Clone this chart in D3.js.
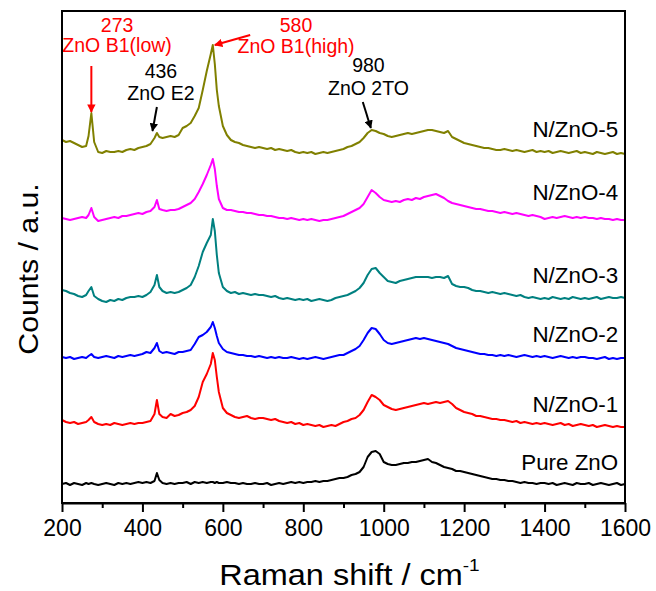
<!DOCTYPE html>
<html>
<head>
<meta charset="utf-8">
<script src="https://cdn.jsdelivr.net/npm/d3@7"></script>
<style>
  body { margin: 0; background: #fff; }
  text { font-family: "Liberation Sans", Arial, Helvetica, sans-serif; }
</style>
</head>
<body>
<svg id="chart" width="656" height="591"></svg>
<script>
// Raman shift sampling grid (cm-1)
const shift = [
  200,210,220,230,240,250,260,266,273,280,290,
  300,310,320,330,340,350,360,370,380,390,
  400,410,420,430,436,442,450,460,470,480,490,
  500,510,520,530,540,550,560,570,575,580,585,590,
  600,610,620,630,640,650,660,670,680,690,
  700,710,720,730,740,750,760,770,780,790,
  800,810,820,830,840,850,860,870,880,890,
  900,910,920,930,940,950,960,970,980,990,
  1000,1010,1020,1030,1040,1050,1060,1070,1080,1090,
  1100,1110,1120,1130,1140,1150,1160,1170,1180,1190,
  1200,1210,1220,1230,1240,1250,1260,1270,1280,1290,
  1300,1310,1320,1330,1340,1350,1360,1370,1380,1390,
  1400,1410,1420,1430,1440,1450,1460,1470,1480,1490,
  1500,1510,1520,1530,1540,1550,1560,1570,1580,1590,
  1600
];

// Relative intensities (a.u.) for each sample
const pureZnO = [
  0,1,-1,1,0,-1,1,0,1,0,-1,
  0,1,0,-1,1,0,1,0,1,2,
  1,2,1,3,11,4,1,0,1,0,1,
  1,2,0,2,1,2,1,2,2,1,2,1,
  1,2,1,1,0,1,0,0,1,0,
  0,1,-1,0,1,0,1,2,1,2,
  1,2,2,3,2,3,3,4,5,6,
  6,7,9,10,12,17,27,32,33,30,
  22,20,19,19,20,21,21,22,22,23,
  24,25,22,21,19,17,16,15,13,13,
  12,11,10,9,8,7,6,5,5,4,
  4,3,3,2,1,2,1,1,0,1,
  1,0,1,-1,0,1,0,-1,1,0,
  0,1,-1,0,1,0,-1,0,1,-1,
  0
];
const nZnO1 = [
  2,0,-1,0,-2,-1,0,2,5,0,-2,
  -3,-2,-3,-1,-2,-3,-2,-1,-2,-1,
  -1,0,1,8,22,8,5,4,8,6,7,
  9,10,12,16,25,40,48,58,69,62,45,30,
  14,9,7,5,4,5,6,4,3,4,
  4,3,2,3,1,0,-1,0,-2,-1,
  -3,-2,-3,-4,-3,-5,-4,-3,-4,-2,
  0,1,3,4,7,12,20,27,25,22,
  17,15,13,12,13,14,15,16,17,18,
  19,18,19,20,19,20,21,18,14,12,
  10,9,8,6,6,5,4,3,3,2,
  2,1,0,1,-1,0,-1,-2,-1,-2,
  -1,-2,-3,-2,-1,-3,-2,-4,-3,-2,
  -3,-4,-3,-5,-4,-3,-4,-5,-4,-5,
  -5
];
const nZnO2 = [
  1,0,1,-1,0,1,0,2,4,1,0,
  1,2,1,0,2,1,2,3,2,3,
  4,6,5,10,15,7,5,6,5,4,6,
  6,7,8,14,21,23,26,31,36,30,22,15,
  9,6,5,4,3,3,2,2,1,2,
  1,0,1,0,1,0,0,1,0,-1,
  0,-1,0,1,0,-1,0,1,2,3,
  3,5,7,9,12,18,25,30,29,24,
  18,15,14,15,16,17,18,19,20,19,
  20,19,18,17,16,15,14,12,10,9,
  8,7,6,5,4,4,3,3,2,3,
  2,3,2,1,2,3,2,1,2,1,
  2,1,0,1,2,1,0,1,0,1,
  1,0,0,-1,0,1,-1,0,-1,0,
  0
];
const nZnO3 = [
  3,2,0,-1,-3,-4,-2,2,6,-3,-6,
  -8,-9,-7,-8,-6,-7,-5,-4,-4,-3,
  -4,-2,1,8,18,6,2,0,1,0,1,
  3,5,8,16,27,41,50,58,74,62,38,20,
  6,2,0,1,-1,0,-1,-2,-1,-2,
  -2,-3,-4,-3,-5,-6,-5,-6,-7,-6,
  -7,-6,-8,-7,-6,-7,-8,-7,-5,-4,
  -3,-2,0,2,5,10,18,24,25,20,
  16,12,11,10,12,13,14,15,16,16,
  16,16,15,16,16,15,17,9,7,6,
  6,5,3,2,2,1,0,1,0,-1,
  0,-1,-2,-3,-2,-4,-5,-4,-5,-6,
  -5,-6,-4,-5,-6,-5,-6,-4,-5,-6,
  -5,-6,-5,-4,-6,-5,-4,-5,-5,-4,
  -5
];
const nZnO4 = [
  1,0,-1,0,1,2,1,4,11,2,-2,
  -1,0,1,2,1,3,3,4,5,6,
  5,7,8,12,19,10,9,8,9,9,10,
  12,14,16,20,27,35,44,54,60,50,33,20,
  11,9,9,8,7,7,6,6,5,4,
  4,3,3,2,1,1,0,1,0,-1,
  0,-1,0,-1,-2,-1,-1,0,1,2,
  3,5,7,9,11,15,22,29,26,22,
  19,18,17,18,17,19,20,19,21,20,
  22,23,24,25,23,21,18,16,15,14,
  13,12,11,10,10,9,8,8,7,6,
  7,6,5,6,5,4,3,4,3,2,
  0,1,2,1,2,3,2,1,2,1,
  2,1,1,0,1,0,0,-1,0,-1,
  -1
];
const nZnO5 = [
  6,4,5,3,1,-1,0,10,33,4,-6,
  -7,-5,-6,-6,-5,-6,-4,-3,-4,-2,
  -1,0,2,8,13,9,8,9,10,9,11,
  18,20,23,30,38,56,75,92,101,82,56,40,
  20,11,6,4,3,1,0,-1,-2,-1,
  -2,-3,-2,-4,-3,-4,-5,-4,-6,-7,
  -6,-7,-6,-8,-7,-6,-7,-6,-5,-4,
  -3,-1,0,2,4,8,13,16,15,13,
  12,10,9,10,11,12,13,12,13,14,
  15,16,16,15,14,13,15,9,7,5,
  3,2,1,0,-1,-2,-2,-3,-4,-4,
  -3,-4,-5,-4,-5,-6,-5,-4,-6,-5,
  -6,-5,-7,-6,-5,-6,-7,-6,-5,-7,
  -6,-7,-8,-6,-7,-8,-7,-6,-8,-7,
  -8
];

const seriesNames = ["Pure ZnO", "N/ZnO-1", "N/ZnO-2", "N/ZnO-3", "N/ZnO-4", "N/ZnO-5"];
const seriesValues = [pureZnO, nZnO1, nZnO2, nZnO3, nZnO4, nZnO5];
// vertical stacking offset of each spectrum (a.u.)
const offsets = [19, 81, 145, 210, 284, 357];

const xTickValues = [200, 400, 600, 800, 1000, 1200, 1400, 1600];
const xMinorTicks = [300, 500, 700, 900, 1100, 1300, 1500];

// peak annotations: position (cm-1), label lines
const peakLabels = [
  { peak: 273, lines: ["273", "ZnO B1(low)"], tone: "red" },
  { peak: 436, lines: ["436", "ZnO E2"], tone: "black" },
  { peak: 580, lines: ["580", "ZnO B1(high)"], tone: "red" },
  { peak: 980, lines: ["980", "ZnO 2TO"], tone: "black" }
];

// ---- layout & style ----
const colors = ["#000000", "#ff0000", "#0000ff", "#008080", "#ff00ff", "#808000"];
const labelLift = [14, 10, 16, 10, 19, 9];
const margin = { left: 62, top: 11, right: 31, bottom: 88 };
const W = 656, H = 591;
const innerW = W - margin.left - margin.right;
const innerH = H - margin.top - margin.bottom;

// annotation geometry in data units: text anchor (x, y of 1st and 2nd line), arrow from/to
const annotLayout = [
  { tx: 337, ty: [471, 451], arrow: [[273, 437], [273, 391]] },
  { tx: 446, ty: [425, 403], arrow: [[436, 396], [425, 372]] },
  { tx: 782, ty: [471, 450], arrow: [[668, 468], [580, 458]] },
  { tx: 962, ty: [431, 408], arrow: [[948, 401], [968, 375]] }
];

const svg = d3.select("#chart");
const g = svg.append("g").attr("transform", `translate(${margin.left},${margin.top})`);

const x = d3.scaleLinear().domain([200, 1600]).range([0, innerW]);
const y = d3.scaleLinear().domain([0, innerH]).range([innerH, 0]);

// arrow heads
const defs = svg.append("defs");
["red", "black"].forEach(c => {
  defs.append("marker")
    .attr("id", "head-" + c)
    .attr("viewBox", "0 0 10 10")
    .attr("refX", 9).attr("refY", 5)
    .attr("markerWidth", 4.2).attr("markerHeight", 4.2)
    .attr("markerUnits", "strokeWidth")
    .attr("orient", "auto")
    .append("path").attr("d", "M0,0 L10,5 L0,10 Z").attr("fill", c === "red" ? "#ff0000" : "#000");
});

// spectra
const line = d3.line()
  .x(d => x(d[0]))
  .y(d => y(d[1]));

seriesValues.forEach((vals, i) => {
  const pts = shift.map((s, k) => [s, vals[k] + offsets[i]]);
  g.append("path")
    .datum(pts)
    .attr("fill", "none")
    .attr("stroke", colors[i])
    .attr("stroke-width", 2)
    .attr("stroke-linejoin", "round")
    .attr("d", line);
});

// series labels
seriesNames.forEach((name, i) => {
  g.append("text")
    .attr("transform", `translate(${x(1583)},${y(offsets[i] + labelLift[i])}) scale(1.04,1)`)
    .attr("text-anchor", "end")
    .attr("font-size", 21.5)
    .attr("fill", "#000")
    .text(name);
});

// peak annotations
peakLabels.forEach((p, i) => {
  const L = annotLayout[i];
  const fill = p.tone === "red" ? "#ff0000" : "#000";
  p.lines.forEach((t, j) => {
    g.append("text")
      .attr("x", x(L.tx))
      .attr("y", y(L.ty[j]))
      .attr("text-anchor", "middle")
      .attr("font-size", 19.5)
      .attr("fill", fill)
      .text(t);
  });
  g.append("line")
    .attr("x1", x(L.arrow[0][0])).attr("y1", y(L.arrow[0][1]))
    .attr("x2", x(L.arrow[1][0])).attr("y2", y(L.arrow[1][1]))
    .attr("stroke", fill)
    .attr("stroke-width", 2)
    .attr("marker-end", `url(#head-${p.tone})`);
});

// frame
g.append("rect")
  .attr("x", 0).attr("y", 0)
  .attr("width", innerW).attr("height", innerH)
  .attr("fill", "none")
  .attr("stroke", "#000")
  .attr("stroke-width", 2);

// x axis: major ticks with labels, minor ticks without
const xAxis = g.append("g")
  .attr("transform", `translate(0,${innerH})`)
  .call(d3.axisBottom(x).tickValues(xTickValues).tickSize(9).tickSizeOuter(0).tickPadding(8).tickFormat(d3.format("d")));
xAxis.select(".domain").attr("stroke-width", 2);
xAxis.selectAll(".tick line").attr("stroke-width", 2);
xAxis.selectAll(".tick text")
  .attr("font-size", 23)
  .attr("font-family", "\"Liberation Sans\", Arial, sans-serif")
  .attr("fill", "#000");

const xMinor = g.append("g")
  .attr("transform", `translate(0,${innerH})`)
  .call(d3.axisBottom(x).tickValues(xMinorTicks).tickSize(5).tickSizeOuter(0).tickFormat(""));
xMinor.select(".domain").remove();
xMinor.selectAll(".tick line").attr("stroke-width", 2);

// axis titles (slightly widened lettering)
const xTitle = svg.append("text")
  .attr("transform", `translate(${margin.left + innerW / 2 + 6},585) scale(1.12,1)`)
  .attr("text-anchor", "middle")
  .attr("font-size", 29)
  .attr("fill", "#000");
xTitle.append("tspan").text("Raman shift / cm");
xTitle.append("tspan").attr("font-size", 17).attr("dy", -14).text("-1");

svg.append("text")
  .attr("transform", `translate(38,${margin.top + innerH / 2 + 12}) rotate(-90) scale(1.08,1)`)
  .attr("text-anchor", "middle")
  .attr("font-size", 28)
  .attr("fill", "#000")
  .text("Counts / a.u.");
</script>
</body>
</html>
